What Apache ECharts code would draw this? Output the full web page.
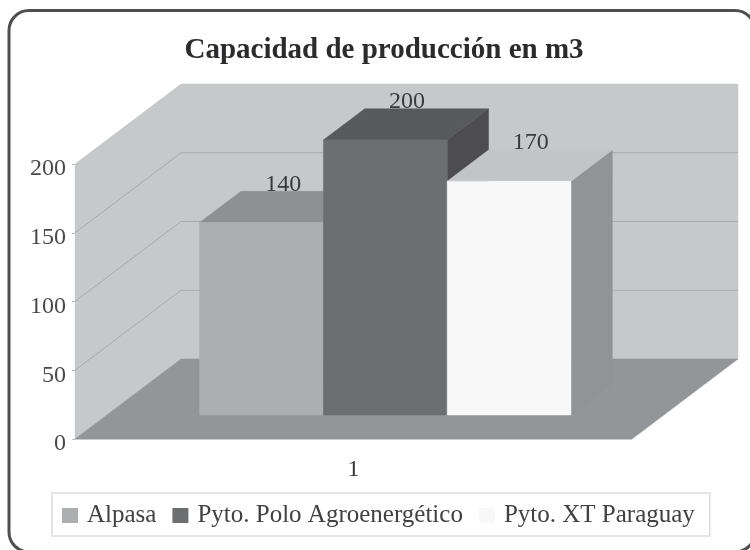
<!DOCTYPE html>
<html>
<head>
<meta charset="utf-8">
<style>html,body{margin:0;padding:0;background:#fff}#c{width:750px;height:550px}</style>
<script src="https://cdn.jsdelivr.net/npm/echarts@6/dist/echarts.min.js"></script>
</head>
<body>
<div id="c"></div>
<script>
const categories = ['1'];
const yTicks = [0, 50, 100, 150, 200];
const alpasa = [140];
const polo = [200];
const xt = [170];
const seriesNames = ['Alpasa', 'Pyto. Polo Agroenergético', 'Pyto. XT Paraguay'];
const SERIF = '"Liberation Serif", serif';

const chart = echarts.init(document.getElementById('c'), null, {renderer: 'canvas'});

const DX = 106, DY = 80;           // full floor depth on screen
const FRONT = 0.30, BACK = 0.69;   // bar's front/back position along that depth
const faces = [
  {front: '#adaeb0', top: '#8f9092', side: '#808184'},
  {front: '#6d6e70', top: '#58595b', side: '#4d4d4f'},
  {front: '#f8f8f8', top: '#c3c4c6', side: '#929396'}
];

function poly(points, fill) {
  return {type: 'polygon', shape: {points}, style: {fill, stroke: fill, lineWidth: 0.5}, silent: true};
}

function renderWalls(params, api) {
  const cs = params.coordSys;
  const xL = cs.x, xR = cs.x + cs.width;
  const y0 = api.coord([0, 0])[1], yT = api.coord([0, 200])[1];
  const children = [
    poly([[xL, y0], [xL, yT], [xL + DX, yT - DY], [xL + DX, y0 - DY]], '#c7c8ca'),
    poly([[xL + DX, y0 - DY], [xL + DX, yT - DY], [xR + DX, yT - DY], [xR + DX, y0 - DY]], '#c7c8ca'),
    poly([[xL, y0], [xL + DX, y0 - DY], [xR + DX, y0 - DY], [xR, y0]], '#939598')
  ];
  yTicks.slice(1, -1).forEach(t => {
    const y = api.coord([0, t])[1];
    children.push({
      type: 'polyline', silent: true,
      shape: {points: [[xL, y], [xL + DX, y - DY], [xR + DX, y - DY]]},
      style: {stroke: '#a9aaac', lineWidth: 1, fill: null}
    });
  });
  return {type: 'group', children};
}

function barRenderer(idx) {
  return function (params, api) {
    const val = api.value(1);
    const c = api.coord([api.value(0), val]);
    const base = api.coord([api.value(0), 0]);
    const band = api.size([1, 0])[0];
    const w = band / 4.5;
    const x0 = c[0] - 1.5 * w + idx * w + DX * FRONT;
    const x1 = x0 + w;
    const yTop = c[1] - DY * FRONT;
    const yBot = base[1] - DY * FRONT;
    const dx = DX * (BACK - FRONT), dy = DY * (BACK - FRONT);
    const f = faces[idx];
    return {type: 'group', children: [
      poly([[x1, yTop], [x1 + dx, yTop - dy], [x1 + dx, yBot - dy], [x1, yBot]], f.side),
      poly([[x0, yTop], [x0 + dx, yTop - dy], [x1 + dx, yTop - dy], [x1, yTop]], f.top),
      poly([[x0, yTop], [x1, yTop], [x1, yBot], [x0, yBot]], f.front),
      {type: 'text', silent: true, z2: 50,
        style: {text: String(val), x: (x0 + x1) / 2 + dx / 2 + 1, y: yTop - dy + 5,
          fill: '#3a3a3c', font: '24px ' + SERIF, textAlign: 'center', textVerticalAlign: 'bottom'}}
    ]};
  };
}

function barSeries(name, values, idx) {
  return {
    name, type: 'custom', coordinateSystem: 'cartesian2d', z: 3 + idx,
    itemStyle: {color: faces[idx].front},
    renderItem: barRenderer(idx),
    encode: {x: 0, y: 1},
    data: values.map((v, i) => [i, v])
  };
}

chart.setOption({
  animation: false,
  backgroundColor: '#fff',
  title: {
    text: 'Capacidad de producción en m3',
    left: 379, top: 31, textAlign: 'center',
    textStyle: {fontFamily: SERIF, fontWeight: 'bold', fontSize: 29, color: '#2b2b2d'}
  },
  legend: {
    data: seriesNames,
    left: 52, top: 493, padding: [10, 15, 8, 10],
    itemWidth: 16, itemHeight: 15, itemGap: 16, icon: 'rect',
    borderColor: '#dcdddf', borderWidth: 1.5,
    textStyle: {fontFamily: SERIF, fontSize: 25, lineHeight: 23, color: '#414042', padding: [0, 0, 0, 4]}
  },
  grid: {left: 75, top: 164, width: 557, height: 275},
  xAxis: {
    type: 'category', data: categories,
    axisLine: {lineStyle: {color: '#d1d2d4', width: 1.5}},
    axisTick: {show: false},
    axisLabel: {fontFamily: SERIF, fontSize: 24, color: '#3a3a3c', margin: 19},
    splitLine: {show: false}
  },
  yAxis: {
    type: 'value', min: 0, max: 200, interval: 50,
    axisLine: {show: false},
    axisTick: {show: true, length: 3, lineStyle: {color: '#bcbdc0'}},
    axisLabel: {fontFamily: SERIF, fontSize: 24, color: '#4a4a4c', margin: 9, verticalAlign: 'top', lineHeight: 10},
    splitLine: {show: false}
  },
  series: [
    {type: 'custom', name: 'paredes', coordinateSystem: 'cartesian2d', silent: true, z: 1,
      renderItem: renderWalls, encode: {x: 0, y: 1}, data: [[0, 0]], tooltip: {show: false}},
    barSeries(seriesNames[0], alpasa, 0),
    barSeries(seriesNames[1], polo, 1),
    barSeries(seriesNames[2], xt, 2)
  ],
  graphic: [{
    type: 'rect', silent: true, z: 100,
    shape: {x: 9, y: 10.5, width: 746, height: 541.5, r: 20},
    style: {fill: null, stroke: '#4f4f51', lineWidth: 3}
  }]
});
</script>
</body>
</html>
